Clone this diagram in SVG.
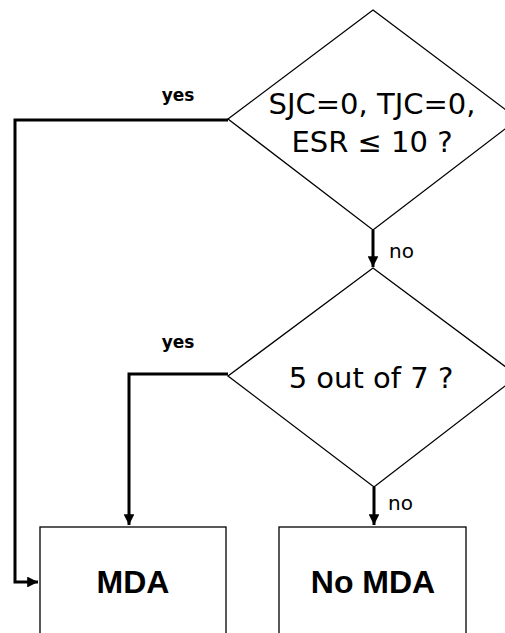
<svg xmlns="http://www.w3.org/2000/svg" width="505" height="633" viewBox="0 0 505 633">
<style>
.shape{fill:#fff;stroke:#000;stroke-width:1.3}
.conn{fill:none;stroke:#000;stroke-width:3}
.q{font-family:"DejaVu Sans",sans-serif;font-size:29px;text-anchor:middle;fill:#000}
.res{font-family:"Liberation Sans",Arial,sans-serif;font-weight:bold;font-size:32px;text-anchor:middle;fill:#000}
.yes{font-family:"DejaVu Sans",sans-serif;font-weight:bold;font-size:17px;text-anchor:middle;fill:#000}
.no{font-family:"DejaVu Sans",sans-serif;font-size:20px;fill:#000}
</style>
<defs>
<marker id="ah" viewBox="0 0 10 10" refX="10" refY="5" markerWidth="4.3" markerHeight="3.6" markerUnits="strokeWidth" orient="auto">
<path d="M0,0 L10,5 L0,10 Z" fill="#000"/>
</marker>
</defs>
<rect width="505" height="633" fill="#fff"/>
<g id="d1">
<polygon class="shape" points="373,10 518,119 373,230 228,119"/>
<text class="q" x="372" y="114">SJC=0, TJC=0,</text>
<text class="q" x="372" y="152">ESR ≤ 10 ?</text>
</g>
<g id="d2">
<polygon class="shape" points="373,268 518,376 374,487 228,376"/>
<text class="q" x="371" y="388">5 out of 7 ?</text>
</g>
<g id="mda">
<rect class="shape" x="40" y="527" width="186" height="120"/>
<text class="res" x="133" y="593">MDA</text>
</g>
<g id="nomda">
<rect class="shape" x="279" y="527" width="187" height="120"/>
<text class="res" x="373" y="593">No MDA</text>
</g>
<g id="connectors">
<path class="conn" d="M228,120 H15 V582 H38" marker-end="url(#ah)"/>
<path class="conn" d="M373,230 V267" marker-end="url(#ah)"/>
<path class="conn" d="M228,374 H129 V525" marker-end="url(#ah)"/>
<path class="conn" d="M374,487 V525" marker-end="url(#ah)"/>
<text class="yes" x="178" y="101">yes</text>
<text class="yes" x="178" y="348">yes</text>
<text class="no" x="389" y="258">no</text>
<text class="no" x="388" y="510">no</text>
</g>
</svg>
